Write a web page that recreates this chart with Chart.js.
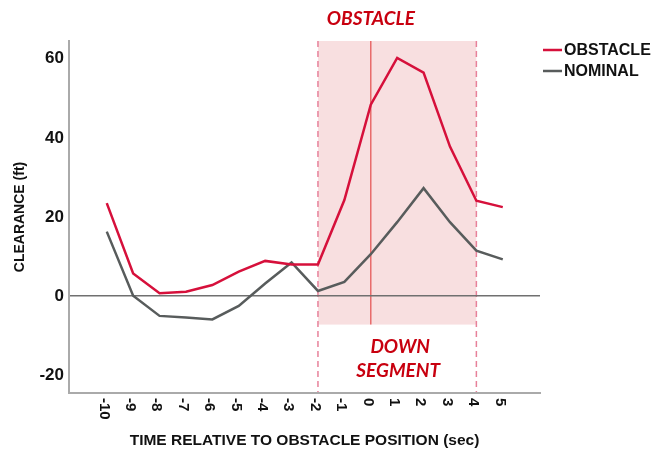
<!DOCTYPE html>
<html>
<head>
<meta charset="utf-8">
<script src="https://cdn.jsdelivr.net/npm/chart.js@4.4.1/dist/chart.umd.min.js"></script>
<style>
  html, body { margin: 0; padding: 0; background: #fff; }
  #wrap { width: 658px; height: 452px; }
</style>
</head>
<body>
<div id="wrap"><canvas id="chart"></canvas></div>
<script>
// data
const timeLabels = [-10, -9, -8, -7, -6, -5, -4, -3, -2, -1, 0, 1, 2, 3, 4, 5];
const obstacle = [23.5, 5.7, 0.7, 1.1, 2.8, 6.2, 8.9, 8.0, 8.0, 24.3, 48.4, 60.2, 56.5, 37.8, 24.1, 22.5];
const nominal = [16.3, 0.1, -5.0, -5.4, -5.9, -2.5, 3.2, 8.5, 1.3, 3.6, 10.6, 18.7, 27.3, 18.7, 11.5, 9.3];
const yTicks = [-20, 0, 20, 40, 60];

// down segment annotation (x in sec, y in ft)
const segStart = -2;
const segEnd = 4;
const obstacleAt = 0;
const shadeBottom = -7.2;

const RED = '#d6103b';
const GRAY = '#585c5c';
const TXT_RED = '#c8000f';
const FONT = "'Liberation Sans', Arial, sans-serif";

const segmentPlugin = {
  id: 'segment',
  beforeDraw(chart) {
    const ctx = chart.ctx;
    const x = chart.scales.x, y = chart.scales.y;
    const x0 = x.getPixelForValue(segStart);
    const x1 = x.getPixelForValue(segEnd);
    const top = chart.chartArea.top;
    const bot = chart.chartArea.bottom;
    const yb = y.getPixelForValue(shadeBottom);
    ctx.save();
    ctx.fillStyle = '#f8dfe0';
    ctx.fillRect(x0, top, x1 - x0, yb - top);
    // obstacle position line
    const xo = x.getPixelForValue(obstacleAt);
    ctx.strokeStyle = '#e86a6a';
    ctx.lineWidth = 1.5;
    ctx.beginPath();
    ctx.moveTo(xo, top);
    ctx.lineTo(xo, yb);
    ctx.stroke();
    // dashed segment edges
    ctx.strokeStyle = '#e7819a';
    ctx.lineWidth = 1.5;
    ctx.setLineDash([6, 4]);
    [x0, x1].forEach(px => {
      ctx.beginPath();
      ctx.moveTo(px, top);
      ctx.lineTo(px, bot);
      ctx.stroke();
    });
    ctx.restore();
  },
  afterDraw(chart) {
    const ctx = chart.ctx;
    const x = chart.scales.x, y = chart.scales.y;
    ctx.save();

    // x tick labels, rotated to read downward
    ctx.fillStyle = '#111';
    ctx.font = 'bold 15px ' + FONT;
    ctx.textAlign = 'left';
    ctx.textBaseline = 'middle';
    timeLabels.forEach(v => {
      const px = x.getPixelForValue(v) - 3;
      ctx.save();
      ctx.translate(px, chart.chartArea.bottom + 5);
      ctx.rotate(Math.PI / 2);
      ctx.fillText(String(v), 0, 0);
      ctx.restore();
    });

    // annotation text
    ctx.fillStyle = TXT_RED;
    ctx.textAlign = 'center';
    ctx.font = 'italic bold 19px Lato, ' + FONT;
    ctx.fillText('OBSTACLE', x.getPixelForValue(obstacleAt), 19);
    const mid = x.getPixelForValue((segStart + segEnd) / 2);
    ctx.fillText('DOWN', mid + 3, y.getPixelForValue(-12.8));
    ctx.fillText('SEGMENT', mid + 1, y.getPixelForValue(-18.8));

    // legend
    ctx.font = 'bold 16px ' + FONT;
    ctx.textAlign = 'left';
    ctx.fillStyle = '#111';
    chart.data.datasets.forEach((ds, i) => {
      const ly = 50 + i * 21;
      ctx.strokeStyle = ds.borderColor;
      ctx.lineWidth = 2.5;
      ctx.beginPath();
      ctx.moveTo(543, ly);
      ctx.lineTo(562, ly);
      ctx.stroke();
      ctx.fillText(ds.label, 564, ly + 1);
    });
    ctx.restore();
  }
};

const ctx = document.getElementById('chart').getContext('2d');
new Chart(ctx, {
  type: 'line',
  data: {
    datasets: [{
      label: 'OBSTACLE',
      data: timeLabels.map((t, i) => ({ x: t, y: obstacle[i] })),
      borderColor: RED,
      borderWidth: 2.5,
      pointRadius: 0,
      tension: 0
    }, {
      label: 'NOMINAL',
      data: timeLabels.map((t, i) => ({ x: t, y: nominal[i] })),
      borderColor: GRAY,
      borderWidth: 2.5,
      pointRadius: 0,
      tension: 0
    }]
  },
  options: {
    responsive: true,
    maintainAspectRatio: false,
    animation: false,
    layout: { padding: { top: 41, right: 118, left: 0, bottom: 0 } },
    plugins: {
      legend: { display: false },
      tooltip: { enabled: false }
    },
    scales: {
      x: {
        type: 'linear',
        min: -11.43,
        max: 6.41,
        afterBuildTicks: s => { s.ticks = timeLabels.map(v => ({ value: v })); },
        afterFit: s => { s.height = 59; },
        ticks: { display: false },
        grid: { color: 'rgba(0,0,0,0)', drawTicks: false },
        border: { color: '#aaaaaa', width: 2 },
        title: {
          display: true,
          text: 'TIME RELATIVE TO OBSTACLE POSITION (sec)',
          color: '#111',
          font: { family: FONT, size: 15.5, weight: 'bold' },
          padding: { top: 0, bottom: 2 }
        }
      },
      y: {
        min: -24.5,
        max: 64.5,
        afterBuildTicks: s => { s.ticks = yTicks.map(v => ({ value: v })); },
        afterFit: s => { s.width = 69; },
        ticks: {
          color: '#111',
          padding: 5,
          font: { family: FONT, size: 17, weight: 'bold' }
        },
        grid: {
          drawTicks: false,
          lineWidth: 1.5,
          color: c => (c.tick && c.tick.value === 0 ? '#707070' : 'rgba(0,0,0,0)')
        },
        border: { color: '#aaaaaa', width: 2 },
        title: {
          display: true,
          text: 'CLEARANCE (ft)',
          color: '#111',
          font: { family: FONT, size: 14, weight: 'bold' },
          padding: { top: 12, bottom: 0 },
          align: 'center'
        }
      }
    }
  },
  plugins: [segmentPlugin]
});
</script>
</body>
</html>
